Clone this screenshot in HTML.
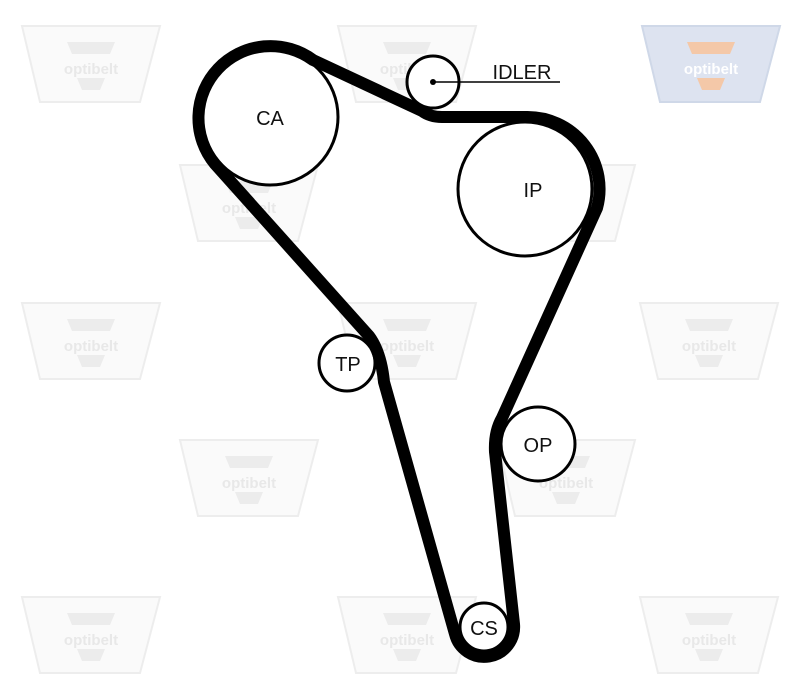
<!DOCTYPE html>
<html><head><meta charset="utf-8"><style>
html,body{margin:0;padding:0;background:#fff;}
svg{display:block;}
text{font-family:"Liberation Sans",sans-serif;}
</style></head><body>
<svg width="800" height="695" viewBox="0 0 800 695" xmlns="http://www.w3.org/2000/svg">
<defs>
<g id="wm">
<polygon points="0,0 138,0 118,76 18,76" fill="#fafafa" stroke="#ededed" stroke-width="2"/>
<polygon points="45,16 93,16 88,28 50,28" fill="#ececec"/>
<text x="69" y="48" font-size="15" font-weight="bold" fill="#e8e8e8" text-anchor="middle">optibelt</text>
<polygon points="55,52 83,52 78,64 60,64" fill="#ececec"/>
</g>
</defs>
<use href="#wm" x="22" y="26"/>
<use href="#wm" x="338" y="26"/>
<use href="#wm" x="180" y="165"/>
<use href="#wm" x="497" y="165"/>
<use href="#wm" x="22" y="303"/>
<use href="#wm" x="338" y="303"/>
<use href="#wm" x="640" y="303"/>
<use href="#wm" x="180" y="440"/>
<use href="#wm" x="497" y="440"/>
<use href="#wm" x="22" y="597"/>
<use href="#wm" x="338" y="597"/>
<use href="#wm" x="640" y="597"/>
<!-- colored logo -->
<g transform="translate(642,26)">
<polygon points="0,0 138,0 118,76 18,76" fill="#dde3f0" stroke="#cfd8e8" stroke-width="2"/>
<polygon points="45,16 93,16 88,28 50,28" fill="#f4c8a8"/>
<text x="69" y="48" font-size="15" font-weight="bold" fill="#fff" text-anchor="middle">optibelt</text>
<polygon points="55,52 83,52 78,64 60,64" fill="#f4c8a8"/>
</g>
<!-- pulleys -->
<g fill="#fff" stroke="#000" stroke-width="3">
<circle cx="270" cy="117" r="68"/>
<circle cx="525" cy="189" r="67"/>
<circle cx="433" cy="82" r="26"/>
<circle cx="347" cy="363" r="28"/>
<circle cx="538" cy="444" r="37"/>
<circle cx="484" cy="627" r="24"/>
</g>
<!-- belt -->
<path d="M215,164 A72 72 0 0 1 313,60 L422,111 Q430,117 442,117 L527,117 A72 72 0 0 1 597,208 L502,418 Q494,432 495,452 L514,624 A30 30 0 0 1 455,634 L384,382 Q381,352 369,336 Z" fill="none" stroke="#000" stroke-width="12" stroke-linejoin="round"/>
<!-- idler pointer -->
<circle cx="433" cy="82" r="3" fill="#000"/>
<line x1="433" y1="82" x2="560" y2="82" stroke="#000" stroke-width="1.5"/>
<g font-size="20" fill="#111" text-anchor="middle">
<text x="522" y="79">IDLER</text>
<text x="270" y="125">CA</text>
<text x="533" y="197">IP</text>
<text x="348" y="371">TP</text>
<text x="538" y="452">OP</text>
<text x="484" y="635">CS</text>
</g>
</svg>
</body></html>
